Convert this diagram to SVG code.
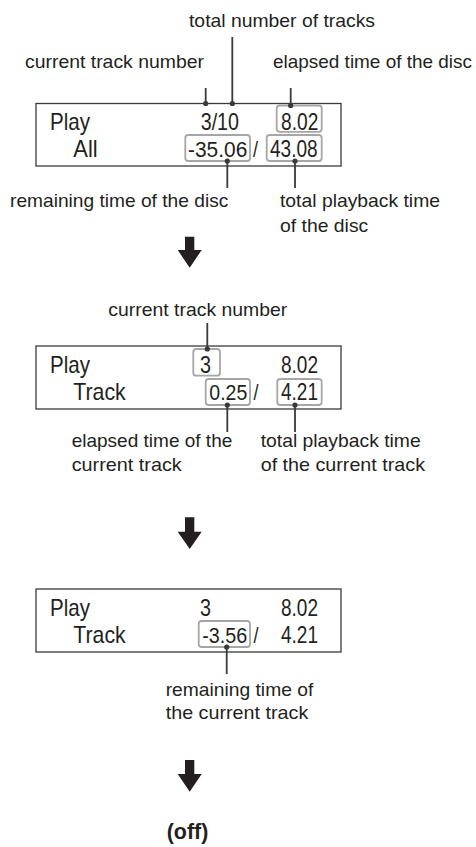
<svg xmlns="http://www.w3.org/2000/svg" width="476" height="847" viewBox="0 0 476 847">
<style>
.lbl{font-family:"Liberation Sans",Arial,sans-serif;font-size:18.5px;fill:#231f20}
.dsp{font-family:"Liberation Sans",Arial,sans-serif;font-size:23.6px;fill:#231f20}
.num{font-family:"Liberation Sans",Arial,sans-serif;font-size:22px;fill:#231f20}
.off{font-family:"Liberation Sans",Arial,sans-serif;font-size:22px;font-weight:bold;fill:#231f20}
.lcd{fill:#fff;stroke:#3a3a3a;stroke-width:1.3}
.hl{fill:none;stroke:#a6a6a6;stroke-width:1.8}
.ld{stroke:#3a3a3a;stroke-width:1.8;fill:none}
.dot{fill:#3a3a3a}
.arr{fill:#231f20}
</style>
<rect width="476" height="847" fill="#fff"/>

<g id="display1">
<rect class="lcd" x="36" y="103.5" width="305" height="62.5"/>
<rect class="hl" x="276.7" y="105.5" width="45" height="26.3" rx="3"/>
<rect class="hl" x="185.3" y="135" width="64.7" height="26" rx="3"/>
<rect class="hl" x="266.7" y="135" width="55" height="26" rx="3"/>
<text class="dsp" x="50" y="130" textLength="40" lengthAdjust="spacingAndGlyphs">Play</text>
<text class="dsp" x="73.3" y="157" textLength="24.4" lengthAdjust="spacingAndGlyphs">All</text>
<text class="dsp" x="200.7" y="130" textLength="38.3" lengthAdjust="spacingAndGlyphs">3/10</text>
<text class="dsp" x="281" y="130" textLength="37.3" lengthAdjust="spacingAndGlyphs">8.02</text>
<text class="num" x="188" y="157" textLength="59.3" lengthAdjust="spacingAndGlyphs">-35.06</text>
<text class="num" x="253" y="157" textLength="5" lengthAdjust="spacingAndGlyphs">/</text>
<text class="dsp" x="270" y="157" textLength="47.7" lengthAdjust="spacingAndGlyphs">43.08</text>
</g>

<g id="labels1">
<text class="lbl" x="189" y="27" textLength="186" lengthAdjust="spacingAndGlyphs">total number of tracks</text>
<text class="lbl" x="25" y="68" textLength="179" lengthAdjust="spacingAndGlyphs">current track number</text>
<text class="lbl" x="273" y="68" textLength="199" lengthAdjust="spacingAndGlyphs">elapsed time of the disc</text>
<text class="lbl" x="10" y="207" textLength="218.3" lengthAdjust="spacingAndGlyphs">remaining time of the disc</text>
<text class="lbl" x="280" y="207" textLength="160" lengthAdjust="spacingAndGlyphs">total playback time</text>
<text class="lbl" x="280" y="231.5" textLength="88.3" lengthAdjust="spacingAndGlyphs">of the disc</text>
</g>

<g id="display2">
<rect class="lcd" x="36" y="346" width="305" height="63"/>
<rect class="hl" x="193.3" y="349" width="26.7" height="26.7" rx="3"/>
<rect class="hl" x="205.7" y="379" width="44.3" height="26" rx="3"/>
<rect class="hl" x="277.3" y="379" width="44.4" height="26" rx="3"/>
<text class="dsp" x="50" y="373" textLength="40" lengthAdjust="spacingAndGlyphs">Play</text>
<text class="dsp" x="200" y="373" textLength="11" lengthAdjust="spacingAndGlyphs">3</text>
<text class="dsp" x="281" y="373" textLength="37" lengthAdjust="spacingAndGlyphs">8.02</text>
<text class="dsp" x="73.3" y="400" textLength="52.4" lengthAdjust="spacingAndGlyphs">Track</text>
<text class="num" x="209.3" y="400" textLength="38" lengthAdjust="spacingAndGlyphs">0.25</text>
<text class="num" x="253.5" y="400" textLength="5" lengthAdjust="spacingAndGlyphs">/</text>
<text class="dsp" x="281" y="400" textLength="37" lengthAdjust="spacingAndGlyphs">4.21</text>
</g>

<g id="labels2">
<text class="lbl" x="108.3" y="315.7" textLength="179" lengthAdjust="spacingAndGlyphs">current track number</text>
<text class="lbl" x="71.7" y="447" textLength="160.6" lengthAdjust="spacingAndGlyphs">elapsed time of the</text>
<text class="lbl" x="71.7" y="471" textLength="110" lengthAdjust="spacingAndGlyphs">current track</text>
<text class="lbl" x="260.7" y="447" textLength="160" lengthAdjust="spacingAndGlyphs">total playback time</text>
<text class="lbl" x="260.7" y="471" textLength="164.3" lengthAdjust="spacingAndGlyphs">of the current track</text>
</g>

<g id="display3">
<rect class="lcd" x="36" y="589" width="305" height="63"/>
<rect class="hl" x="198.7" y="621" width="51.3" height="26" rx="3"/>
<text class="dsp" x="50" y="616" textLength="40" lengthAdjust="spacingAndGlyphs">Play</text>
<text class="dsp" x="200" y="616" textLength="11" lengthAdjust="spacingAndGlyphs">3</text>
<text class="dsp" x="281" y="616" textLength="37" lengthAdjust="spacingAndGlyphs">8.02</text>
<text class="dsp" x="73.3" y="643" textLength="52.4" lengthAdjust="spacingAndGlyphs">Track</text>
<text class="num" x="202.3" y="643" textLength="45" lengthAdjust="spacingAndGlyphs">-3.56</text>
<text class="num" x="253.5" y="643" textLength="5" lengthAdjust="spacingAndGlyphs">/</text>
<text class="dsp" x="281" y="643" textLength="37" lengthAdjust="spacingAndGlyphs">4.21</text>
</g>

<g id="labels3">
<text class="lbl" x="165.7" y="696" textLength="147.6" lengthAdjust="spacingAndGlyphs">remaining time of</text>
<text class="lbl" x="165.7" y="719.3" textLength="142.6" lengthAdjust="spacingAndGlyphs">the current track</text>
</g>

<g id="off">
<text class="off" x="166.7" y="839" textLength="41.6" lengthAdjust="spacingAndGlyphs">(off)</text>
</g>

<g id="connectors">
<path class="ld" d="M205.7 88V103M232.3 37V103M290.7 88V105.5M227.3 161V188M295 161V188"/>
<circle class="dot" cx="205.7" cy="103.5" r="2.6"/>
<circle class="dot" cx="232.3" cy="103.5" r="2.6"/>
<circle class="dot" cx="290.7" cy="105.5" r="2.6"/>
<circle class="dot" cx="227.3" cy="161" r="2.6"/>
<circle class="dot" cx="295" cy="161" r="2.6"/>
<path class="ld" d="M207.3 323V349M227.3 405V432M295 405V432"/>
<circle class="dot" cx="207.3" cy="349" r="2.6"/>
<circle class="dot" cx="227.3" cy="405" r="2.6"/>
<circle class="dot" cx="295" cy="405" r="2.6"/>
<path class="ld" d="M226.7 647V674"/>
<circle class="dot" cx="226.7" cy="647" r="2.6"/>
<path class="arr" d="M185 236.7H194.3V250H201.7L189.7 267.7L177.7 250H185Z"/>
<path class="arr" d="M185 517.3H194.3V531.7H201.7L189.7 549L177.7 531.7H185Z"/>
<path class="arr" d="M185 760H194.3V774H201.7L189.7 791.7L177.7 774H185Z"/>
</g>
</svg>
